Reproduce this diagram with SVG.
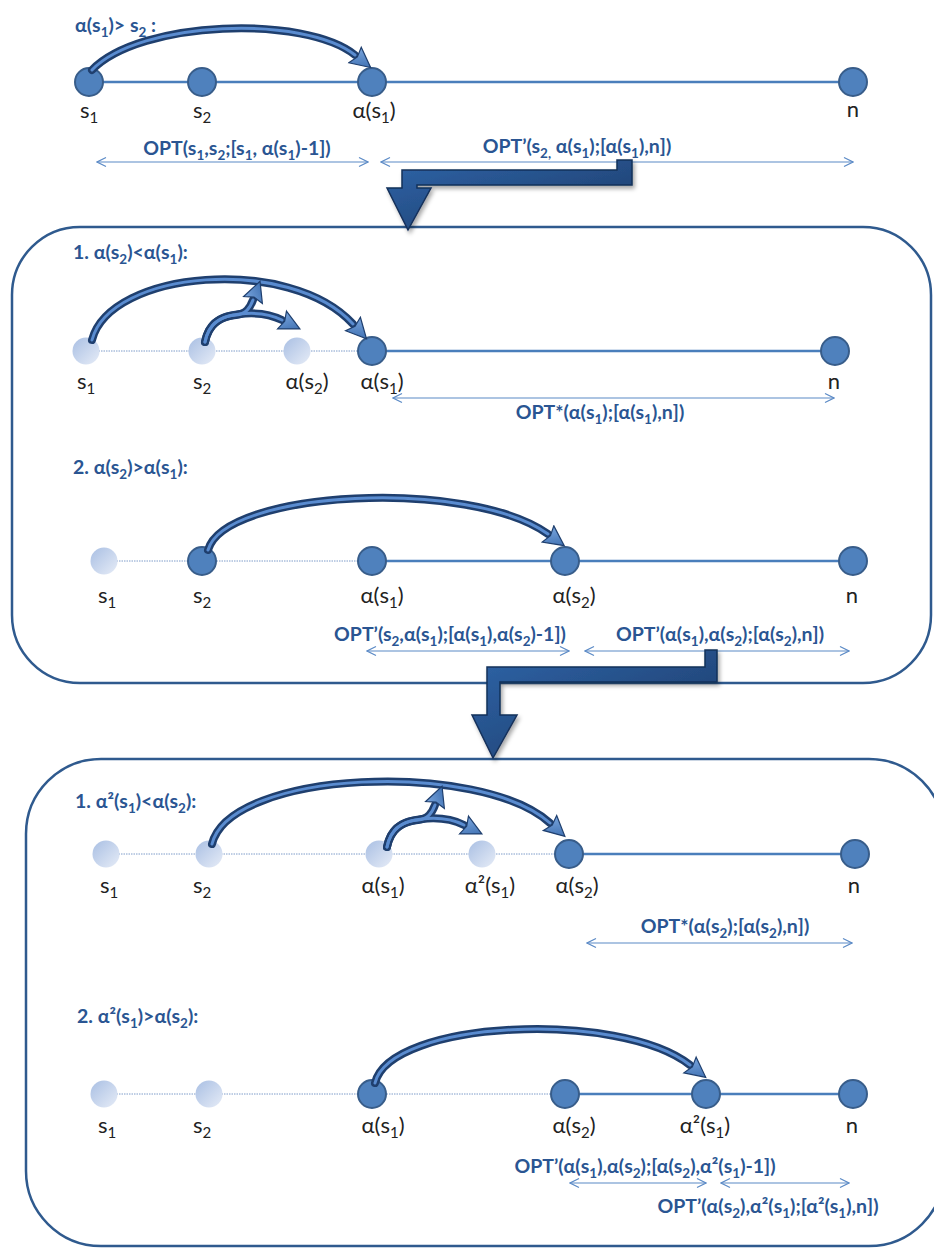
<svg xmlns="http://www.w3.org/2000/svg" width="934" height="1248" viewBox="0 0 934 1248">
<style>
.lb{font-family:Lato,"Liberation Sans",sans-serif;font-weight:bold;font-size:19.5px;fill:#2a5592}
.mid{text-anchor:middle}
.nl{font-family:Lato,"Liberation Sans",sans-serif;font-size:22px;fill:#222;text-anchor:middle}
.sb{font-size:13.5px}
.nl .sb{font-size:15px}
.box{fill:none;stroke:#2f5a8e;stroke-width:2.5}
.sol{fill:#4f81bd;stroke:#385d8a;stroke-width:2}
.fad{fill:url(#fg)}
.ln{stroke:#4a7ebb;stroke-width:2.5}
.dot{stroke:#7f9cc9;stroke-width:1;stroke-dasharray:1.5 1}
.dbl{stroke:#5b8ac6;stroke-width:1.2;fill:none;marker-start:url(#chev);marker-end:url(#chev)}
.arcO{fill:none;stroke:#1f3f6e;stroke-width:8;stroke-linecap:round;marker-end:url(#ah)}
.arcI{fill:none;stroke:#5a8cd0;stroke-width:3;stroke-linecap:round}
.elb{fill:url(#eg);stroke:#14305a;stroke-width:1.5;filter:url(#sh)}
</style>
<defs>
<linearGradient id="fg" x1="0" y1="0" x2="1" y2="1"><stop offset="0" stop-color="#a9bfe3"/><stop offset="1" stop-color="#e6ecf7"/></linearGradient>
<linearGradient id="eg" x1="0" y1="0" x2="1" y2="1"><stop offset="0" stop-color="#2f64a8"/><stop offset="1" stop-color="#1c3a66"/></linearGradient>
<linearGradient id="ag" x1="0" y1="0" x2="1" y2="1"><stop offset="0" stop-color="#7aa6de"/><stop offset="1" stop-color="#2f62a6"/></linearGradient>
<filter id="sh" x="-10%" y="-10%" width="130%" height="140%"><feDropShadow dx="2" dy="3" stdDeviation="2" flood-color="#000" flood-opacity="0.35"/></filter>
<marker id="ah" markerUnits="userSpaceOnUse" viewBox="-1 -12 24 24" markerWidth="24" markerHeight="24" refX="0" refY="0" orient="auto">
<path d="M0 -10 L20 0 L0 10 L3 0 Z" fill="url(#ag)" stroke="#1f3f6e" stroke-width="1.2"/>
</marker>
<marker id="chev" markerUnits="userSpaceOnUse" viewBox="-11 -6 12 12" markerWidth="12" markerHeight="12" refX="0" refY="0" orient="auto-start-reverse">
<path d="M-9 -4.5 L0 0 L-9 4.5" fill="none" stroke="#5b8ac6" stroke-width="1.2"/>
</marker>
</defs>
<rect width="934" height="1248" fill="#fff"/>

<g id="boxes">
<rect id="box1" class="box" x="12" y="227" width="919" height="456" rx="68" ry="68"/>
<rect id="box2" class="box" x="26" y="759" width="918" height="487" rx="75" ry="75"/>
</g>

<g id="connectors">
<line class="ln" x1="89" y1="82" x2="853" y2="82"/>
<line class="dot" x1="86" y1="351" x2="372" y2="351"/>
<line class="ln" x1="372" y1="351" x2="835" y2="351"/>
<line class="dot" x1="104" y1="561" x2="372" y2="561"/>
<line class="ln" x1="372" y1="561" x2="853" y2="561"/>
<line class="dot" x1="106" y1="854" x2="569" y2="854"/>
<line class="ln" x1="569" y1="854" x2="855" y2="854"/>
<line class="dot" x1="104" y1="1094" x2="565" y2="1094"/>
<line class="ln" x1="565" y1="1094" x2="853" y2="1094"/>
<line class="dbl" x1="97" y1="162" x2="368" y2="162"/>
<line class="dbl" x1="381" y1="162" x2="853" y2="162"/>
<line class="dbl" x1="393" y1="398" x2="834" y2="398"/>
<line class="dbl" x1="367" y1="651" x2="569" y2="651"/>
<line class="dbl" x1="585" y1="651" x2="849" y2="651"/>
<line class="dbl" x1="587" y1="943" x2="852" y2="943"/>
<line class="dbl" x1="570" y1="1183" x2="706" y2="1183"/>
<line class="dbl" x1="721" y1="1183" x2="849" y2="1183"/>
</g>

<g id="nodes">
<g id="top-row">
<circle class="sol" cx="89" cy="82" r="14"/>
<circle class="sol" cx="202" cy="82" r="14"/>
<circle class="sol" cx="372" cy="82" r="14"/>
<circle class="sol" cx="853" cy="82" r="14"/>
</g>
<g id="b1r1">
<circle class="fad" cx="86" cy="351" r="13.5"/>
<circle class="fad" cx="202" cy="351" r="13.5"/>
<circle class="fad" cx="297" cy="351" r="13.5"/>
<circle class="sol" cx="372" cy="351" r="14"/>
<circle class="sol" cx="835" cy="351" r="14"/>
</g>
<g id="b1r2">
<circle class="fad" cx="104" cy="561" r="13.5"/>
<circle class="sol" cx="202" cy="561" r="14"/>
<circle class="sol" cx="372" cy="561" r="14"/>
<circle class="sol" cx="565" cy="561" r="14"/>
<circle class="sol" cx="853" cy="561" r="14"/>
</g>
<g id="b2r1">
<circle class="fad" cx="106" cy="854" r="13.5"/>
<circle class="fad" cx="209" cy="854" r="13.5"/>
<circle class="fad" cx="379" cy="854" r="13.5"/>
<circle class="fad" cx="482" cy="854" r="13.5"/>
<circle class="sol" cx="569" cy="854" r="14"/>
<circle class="sol" cx="855" cy="854" r="14"/>
</g>
<g id="b2r2">
<circle class="fad" cx="104" cy="1094" r="13.5"/>
<circle class="fad" cx="209" cy="1094" r="13.5"/>
<circle class="sol" cx="372" cy="1094" r="14"/>
<circle class="sol" cx="565" cy="1094" r="14"/>
<circle class="sol" cx="706" cy="1094" r="14"/>
<circle class="sol" cx="853" cy="1094" r="14"/>
</g>
</g>

<g id="arcs">
<path class="arcO" d="M92 70 C140 20 305 15 355 55"/>
<path class="arcI" d="M92 70 C140 20 305 15 355 55"/>
<path class="arcO" d="M92 340 C110 270 290 255 353 324"/>
<path class="arcI" d="M92 340 C110 270 290 255 353 324"/>
<g id="split1">
<path class="arcO" d="M205 342 C209 322 222 316 236 315 C246 314 250 308 253 300"/>
<path class="arcO" d="M205 342 C209 322 222 316 240 314 C258 312 270 314 282 320"/>
<path class="arcI" d="M205 342 C209 322 222 316 236 315 C246 314 250 308 253 300"/>
<path class="arcI" d="M205 342 C209 322 222 316 240 314 C258 312 270 314 282 320"/>
</g>
<path class="arcO" d="M208 550 C225 490 470 478 548 534"/>
<path class="arcI" d="M208 550 C225 490 470 478 548 534"/>
<path class="arcO" d="M212 844 C230 770 480 760 550 823"/>
<path class="arcI" d="M212 844 C230 770 480 760 550 823"/>
<g id="split2" transform="translate(182 505)">
<path class="arcO" d="M205 342 C209 322 222 316 236 315 C246 314 250 308 253 300"/>
<path class="arcO" d="M205 342 C209 322 222 316 240 314 C258 312 270 314 282 320"/>
<path class="arcI" d="M205 342 C209 322 222 316 236 315 C246 314 250 308 253 300"/>
<path class="arcI" d="M205 342 C209 322 222 316 240 314 C258 312 270 314 282 320"/>
</g>
<path class="arcO" d="M375 1083 C390 1020 620 1010 690 1065"/>
<path class="arcI" d="M375 1083 C390 1020 620 1010 690 1065"/>
</g>

<g id="elbows">
<path id="elbow1" class="elb" d="M617 160 L632 160 L632 185 L417 185 L417 188 L431 188 L408 230 L387 188 L402 188 L402 170 L617 170 Z"/>
<path id="elbow2" class="elb" d="M705 650 L717 650 L717 682 L500 682 L500 715 L517 715 L493 758 L472 715 L487 715 L487 667 L705 667 Z"/>
</g>

<g id="labels">
<text class="lb" x="75" y="32">α(s<tspan class="sb" dy="5">1</tspan><tspan dy="-5">)&gt; s</tspan><tspan class="sb" dy="5">2</tspan><tspan dy="-5"> :</tspan></text>
<text class="nl" x="89" y="118">s<tspan class="sb" dy="5">1</tspan></text>
<text class="nl" x="202" y="118">s<tspan class="sb" dy="5">2</tspan></text>
<text class="nl" x="374" y="118">α(s<tspan class="sb" dy="5">1</tspan><tspan dy="-5">)</tspan></text>
<text class="nl" x="853" y="117">n</text>
<text class="lb mid" x="237" y="155">OPT(s<tspan class="sb" dy="5">1</tspan><tspan dy="-5">,s</tspan><tspan class="sb" dy="5">2</tspan><tspan dy="-5">;[s</tspan><tspan class="sb" dy="5">1</tspan><tspan dy="-5">, α(s</tspan><tspan class="sb" dy="5">1</tspan><tspan dy="-5">)-1])</tspan></text>
<text class="lb mid" x="577" y="153">OPT’(s<tspan class="sb" dy="5">2,</tspan><tspan dy="-5"> α(s</tspan><tspan class="sb" dy="5">1</tspan><tspan dy="-5">);[α(s</tspan><tspan class="sb" dy="5">1</tspan><tspan dy="-5">),n])</tspan></text>

<text class="lb" x="73" y="259">1. α(s<tspan class="sb" dy="5">2</tspan><tspan dy="-5">)&lt;α(s</tspan><tspan class="sb" dy="5">1</tspan><tspan dy="-5">):</tspan></text>
<text class="nl" x="86" y="389">s<tspan class="sb" dy="5">1</tspan></text>
<text class="nl" x="202" y="389">s<tspan class="sb" dy="5">2</tspan></text>
<text class="nl" x="307" y="389">α(s<tspan class="sb" dy="5">2</tspan><tspan dy="-5">)</tspan></text>
<text class="nl" x="382" y="389">α(s<tspan class="sb" dy="5">1</tspan><tspan dy="-5">)</tspan></text>
<text class="nl" x="834" y="389">n</text>
<text class="lb mid" x="600" y="419">OPT*(α(s<tspan class="sb" dy="5">1</tspan><tspan dy="-5">);[α(s</tspan><tspan class="sb" dy="5">1</tspan><tspan dy="-5">),n])</tspan></text>

<text class="lb" x="73" y="474">2. α(s<tspan class="sb" dy="5">2</tspan><tspan dy="-5">)&gt;α(s</tspan><tspan class="sb" dy="5">1</tspan><tspan dy="-5">):</tspan></text>
<text class="nl" x="107" y="603">s<tspan class="sb" dy="5">1</tspan></text>
<text class="nl" x="202" y="603">s<tspan class="sb" dy="5">2</tspan></text>
<text class="nl" x="382" y="603">α(s<tspan class="sb" dy="5">1</tspan><tspan dy="-5">)</tspan></text>
<text class="nl" x="574" y="603">α(s<tspan class="sb" dy="5">2</tspan><tspan dy="-5">)</tspan></text>
<text class="nl" x="852" y="603">n</text>
<text class="lb mid" x="450" y="641">OPT’(s<tspan class="sb" dy="5">2</tspan><tspan dy="-5">,α(s</tspan><tspan class="sb" dy="5">1</tspan><tspan dy="-5">);[α(s</tspan><tspan class="sb" dy="5">1</tspan><tspan dy="-5">),α(s</tspan><tspan class="sb" dy="5">2</tspan><tspan dy="-5">)-1])</tspan></text>
<text class="lb mid" x="720" y="641">OPT’(α(s<tspan class="sb" dy="5">1</tspan><tspan dy="-5">),α(s</tspan><tspan class="sb" dy="5">2</tspan><tspan dy="-5">);[α(s</tspan><tspan class="sb" dy="5">2</tspan><tspan dy="-5">),n])</tspan></text>

<text class="lb" x="75" y="808">1. α²(s<tspan class="sb" dy="5">1</tspan><tspan dy="-5">)&lt;α(s</tspan><tspan class="sb" dy="5">2</tspan><tspan dy="-5">):</tspan></text>
<text class="nl" x="109" y="893">s<tspan class="sb" dy="5">1</tspan></text>
<text class="nl" x="202" y="893">s<tspan class="sb" dy="5">2</tspan></text>
<text class="nl" x="383" y="893">α(s<tspan class="sb" dy="5">1</tspan><tspan dy="-5">)</tspan></text>
<text class="nl" x="490" y="893">α²(s<tspan class="sb" dy="5">1</tspan><tspan dy="-5">)</tspan></text>
<text class="nl" x="577" y="893">α(s<tspan class="sb" dy="5">2</tspan><tspan dy="-5">)</tspan></text>
<text class="nl" x="854" y="893">n</text>
<text class="lb mid" x="725" y="933">OPT*(α(s<tspan class="sb" dy="5">2</tspan><tspan dy="-5">);[α(s</tspan><tspan class="sb" dy="5">2</tspan><tspan dy="-5">),n])</tspan></text>

<text class="lb" x="77" y="1023">2. α²(s<tspan class="sb" dy="5">1</tspan><tspan dy="-5">)&gt;α(s</tspan><tspan class="sb" dy="5">2</tspan><tspan dy="-5">):</tspan></text>
<text class="nl" x="107" y="1133">s<tspan class="sb" dy="5">1</tspan></text>
<text class="nl" x="202" y="1133">s<tspan class="sb" dy="5">2</tspan></text>
<text class="nl" x="383" y="1133">α(s<tspan class="sb" dy="5">1</tspan><tspan dy="-5">)</tspan></text>
<text class="nl" x="574" y="1133">α(s<tspan class="sb" dy="5">2</tspan><tspan dy="-5">)</tspan></text>
<text class="nl" x="705" y="1133">α²(s<tspan class="sb" dy="5">1</tspan><tspan dy="-5">)</tspan></text>
<text class="nl" x="852" y="1133">n</text>
<text class="lb mid" x="645" y="1173">OPT’(α(s<tspan class="sb" dy="5">1</tspan><tspan dy="-5">),α(s</tspan><tspan class="sb" dy="5">2</tspan><tspan dy="-5">);[α(s</tspan><tspan class="sb" dy="5">2</tspan><tspan dy="-5">),α²(s</tspan><tspan class="sb" dy="5">1</tspan><tspan dy="-5">)-1])</tspan></text>
<text class="lb mid" x="768" y="1213">OPT’(α(s<tspan class="sb" dy="5">2</tspan><tspan dy="-5">),α²(s</tspan><tspan class="sb" dy="5">1</tspan><tspan dy="-5">);[α²(s</tspan><tspan class="sb" dy="5">1</tspan><tspan dy="-5">),n])</tspan></text>
</g>
</svg>
